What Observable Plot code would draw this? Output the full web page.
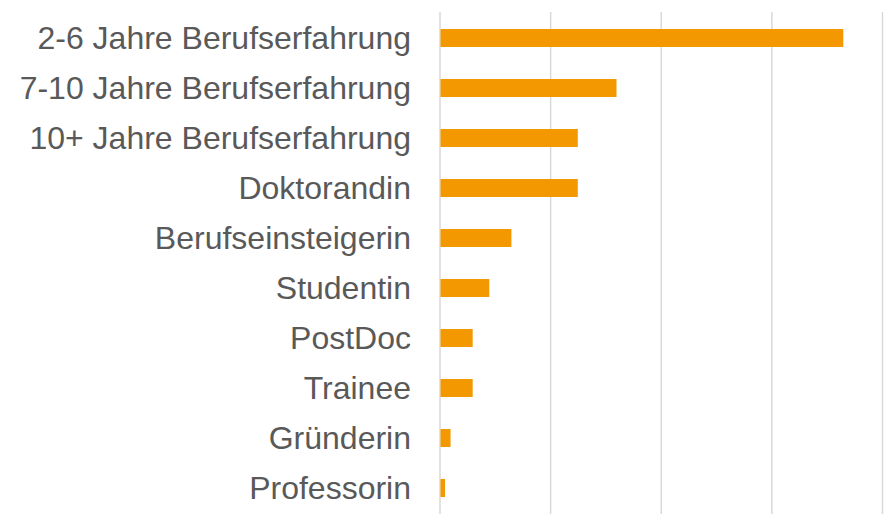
<!DOCTYPE html>
<html>
<head>
<meta charset="utf-8">
<script src="https://cdn.jsdelivr.net/npm/d3@7"></script>
<script src="https://cdn.jsdelivr.net/npm/@observablehq/plot@0.6"></script>
<style>
  html, body { margin: 0; padding: 0; background: #fff; }
</style>
</head>
<body>
<div id="chart"></div>
<script>
const categories = [
  "2-6 Jahre Berufserfahrung",
  "7-10 Jahre Berufserfahrung",
  "10+ Jahre Berufserfahrung",
  "Doktorandin",
  "Berufseinsteigerin",
  "Studentin",
  "PostDoc",
  "Trainee",
  "Gründerin",
  "Professorin"
];
const values = [73, 32, 25, 25, 13, 9, 6, 6, 2, 1];
const gridTicks = [0, 20, 40, 60, 80];

const data = categories.map((c, i) => ({category: c, value: values[i]}));

const chart = Plot.plot({
  width: 889,
  height: 522,
  marginTop: 12,
  marginBottom: 8,
  marginLeft: 439.5,
  marginRight: 7,
  style: {fontFamily: "Liberation Sans, Arial, sans-serif", fontSize: "32px", color: "#595959", background: "#fff"},
  x: {domain: [0, 80], axis: null},
  y: {domain: categories, paddingInner: 0.64, paddingOuter: 0.32, axis: null},
  marks: [
    Plot.ruleX(gridTicks, {stroke: "#d9d9d9", strokeWidth: 1.5}),
    Plot.barX(data, {y: "category", x: "value", fill: "#F39800", insetLeft: 1}),
    Plot.axisY({tickSize: 0, tickPadding: 29, fontSize: 32, fill: "#595959", label: null})
  ]
});
document.getElementById("chart").appendChild(chart);
</script>
</body>
</html>
